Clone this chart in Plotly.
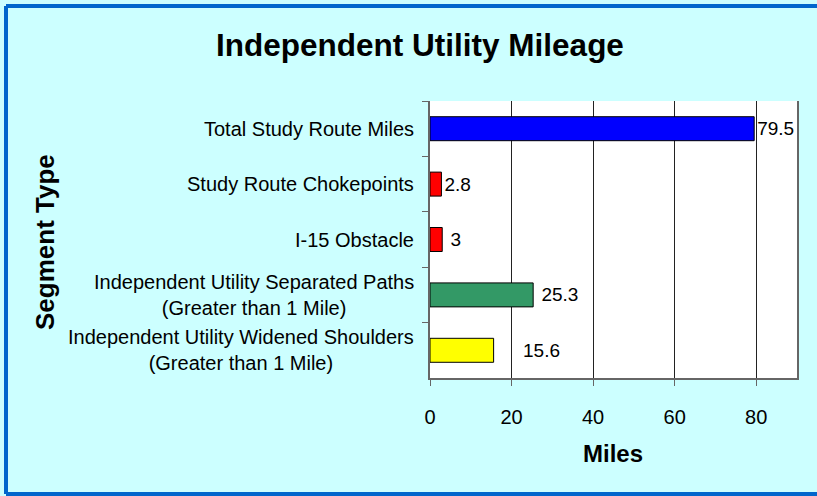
import plotly.graph_objects as go

categories = [
    "Total Study Route Miles",
    "Study Route Chokepoints",
    "I-15 Obstacle",
    "Independent Utility Separated Paths<br>(Greater than 1 Mile)",
    "Independent Utility Widened Shoulders<br>(Greater than 1 Mile)",
]
values = [79.5, 2.8, 3, 25.3, 15.6]
value_labels = ["79.5", "2.8", "\u00a03", "\u00a025.3", "\u00a0\u00a0\u00a0\u00a0\u00a015.6"]
bar_colors = ["#0000FF", "#FF0000", "#FF0000", "#339966", "#FFFF00"]
x_ticks = [0, 20, 40, 60, 80]

W, H = 817, 496
L, R, T, B = 430, 20, 101, 118
pw, ph = W - L - R, H - T - B
FONT = "Liberation Sans, Arial"

def px_x(p):
    return (p - L) / pw

def px_y(p):
    return (H - B - p) / ph

fig = go.Figure()
fig.add_trace(go.Bar(
    y=categories, x=values, orientation="h",
    marker=dict(color=bar_colors, line=dict(color="black", width=1)),
    text=value_labels, textposition="outside",
    textfont=dict(size=19, color="black", family=FONT),
    cliponaxis=False,
    hoverinfo="skip",
))

annotations = []
for c in categories:
    annotations.append(dict(
        x=0, xref="paper", y=c, yref="y", text=c, showarrow=False,
        xanchor="right", yanchor="middle", align="center", xshift=-14,
        font=dict(size=20, color="black", family=FONT),
    ))
annotations.append(dict(
    x=px_x(45), xref="paper", y=px_y(242), yref="paper", text="<b>Segment Type</b>",
    textangle=-90, showarrow=False, xanchor="center", yanchor="middle",
    font=dict(size=26, color="black", family=FONT),
))
annotations.append(dict(
    x=px_x(613), xref="paper", y=px_y(453), yref="paper", text="<b>Miles</b>",
    showarrow=False, xanchor="center", yanchor="middle",
    font=dict(size=24, color="black", family=FONT),
))

bx0, bx1, by0, by1 = px_x(6), px_x(817), px_y(494), px_y(6)
border = dict(color="#0066CC", width=4)
shapes = [
    dict(type="line", xref="paper", yref="paper", x0=bx0, x1=bx0, y0=by0, y1=by1, line=border, layer="above"),
    dict(type="line", xref="paper", yref="paper", x0=bx0, x1=bx1, y0=by1, y1=by1, line=border, layer="above"),
    dict(type="line", xref="paper", yref="paper", x0=bx0, x1=bx1, y0=by0, y1=by0, line=border, layer="above"),
]

fig.update_layout(
    width=W, height=H,
    margin=dict(l=L, r=R, t=T, b=B),
    paper_bgcolor="#CCFFFF",
    plot_bgcolor="white",
    showlegend=False,
    bargap=0.567,
    title=dict(
        text="<b>Independent Utility Mileage</b>",
        x=420 / W, xref="container", xanchor="center",
        y=1 - 45 / H, yref="container", yanchor="middle",
        font=dict(size=31.5, color="black", family=FONT),
    ),
    xaxis=dict(
        range=[0, 90], tickvals=x_ticks, ticks="outside", ticklen=6,
        tickcolor="#666", showgrid=True, gridcolor="#222", gridwidth=1,
        showline=True, linecolor="#666", linewidth=1.5, zeroline=False,
        tickfont=dict(size=20, color="black", family=FONT),
        ticklabelstandoff=14,
    ),
    yaxis=dict(
        autorange="reversed", showticklabels=False, ticks="outside",
        tickson="boundaries", ticklen=6, tickcolor="#666",
        showline=True, mirror=True, linecolor="#666", linewidth=1.5,
        showgrid=False, zeroline=False,
    ),
    annotations=annotations,
    shapes=shapes,
)

fig.write_html(
    "out.html",
    config={"displayModeBar": False},
    post_script="document.body.style.margin='0';document.body.style.overflow='hidden';",
)
